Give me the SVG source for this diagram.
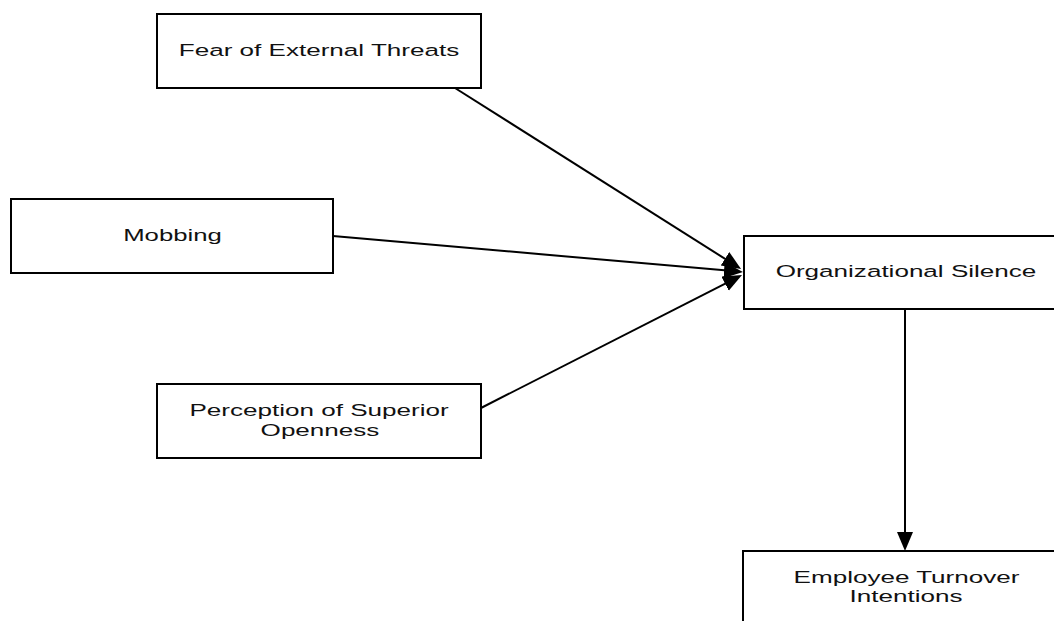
<svg xmlns="http://www.w3.org/2000/svg" width="1054" height="621" viewBox="0 0 1054 621">
  <style>
    .box { fill: #ffffff; stroke: #000000; stroke-width: 2; }
    .lbl { font-family: "Liberation Sans", Arial, sans-serif; font-size: 16.5px; fill: #111111; text-anchor: middle; }
    .edge { stroke: #000000; stroke-width: 2; fill: none; marker-end: url(#arrow); }
  </style>
  <defs>
    <marker id="arrow" markerUnits="userSpaceOnUse" markerWidth="20" markerHeight="17" refX="9" refY="8" orient="auto">
      <path d="M0,0 L19,8 L0,16 z" fill="#000000"/>
    </marker>
  </defs>
  <rect width="1054" height="621" fill="#ffffff"/>

  <g id="edges">
    <line class="edge" x1="455" y1="88" x2="732.6" y2="263.6"/>
    <line class="edge" x1="333" y1="236" x2="733" y2="271.1"/>
    <line class="edge" x1="481" y1="408" x2="733.1" y2="279.6"/>
    <line class="edge" x1="905" y1="309" x2="905" y2="541"/>
  </g>

  <g id="fear">
    <rect class="box" x="157" y="14" width="324" height="74"/>
    <text class="lbl" transform="translate(319 56) scale(1.58 1)">Fear of External Threats</text>
  </g>
  <g id="mobbing">
    <rect class="box" x="11" y="199" width="322" height="74"/>
    <text class="lbl" transform="translate(172.5 241) scale(1.56 1)">Mobbing</text>
  </g>
  <g id="silence">
    <rect class="box" x="744" y="236" width="324" height="73"/>
    <text class="lbl" transform="translate(906 277) scale(1.58 1)">Organizational Silence</text>
  </g>
  <g id="openness">
    <rect class="box" x="157" y="384" width="324" height="74"/>
    <text class="lbl" transform="translate(319 416) scale(1.58 1)">Perception of Superior</text>
    <text class="lbl" transform="translate(320 436) scale(1.58 1)">Openness</text>
  </g>
  <g id="turnover">
    <rect class="box" x="743" y="551" width="326" height="90"/>
    <text class="lbl" transform="translate(906.5 583) scale(1.58 1)">Employee Turnover</text>
    <text class="lbl" transform="translate(906 602) scale(1.58 1)">Intentions</text>
  </g>
</svg>
